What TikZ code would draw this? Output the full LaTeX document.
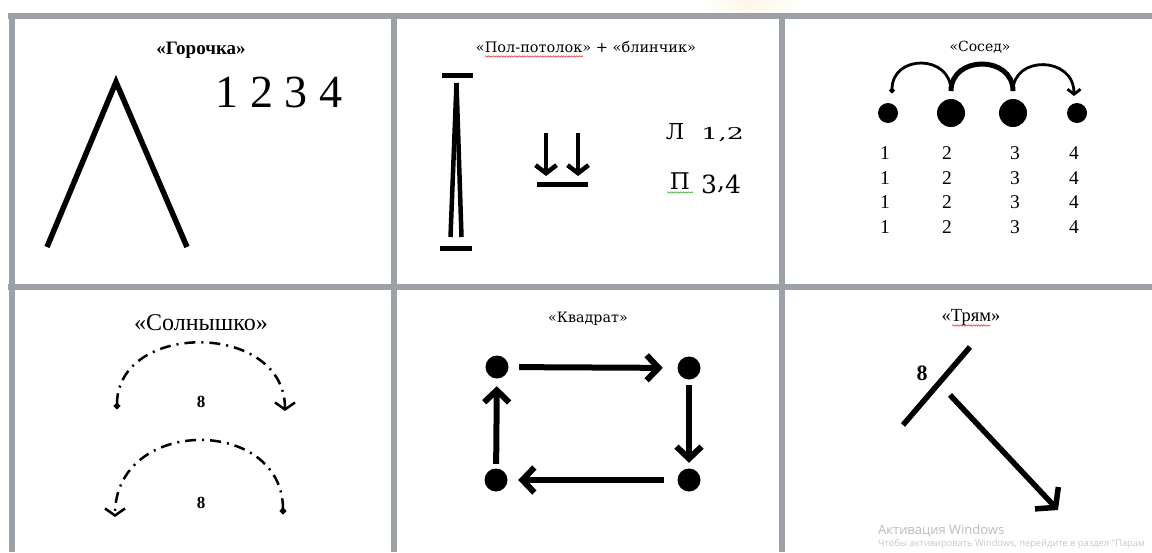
\documentclass[tikz,border=0pt]{standalone}
\usepackage{fontspec}
\setmainfont{Liberation Serif}
\newfontfamily\geo{DejaVu Serif}
\newfontfamily\wsans{Open Sans}
\usetikzlibrary{arrows.meta,decorations.pathmorphing}
\definecolor{gridc}{RGB}{156,161,167}
\definecolor{wmA}{RGB}{188,188,188}
\definecolor{wmB}{RGB}{200,200,200}
\definecolor{glow}{RGB}{255,246,232}
\definecolor{spellred}{RGB}{230,60,60}
\definecolor{spellgreen}{RGB}{60,170,60}
\begin{document}
\begin{tikzpicture}[x=1pt,y=-1pt,
  gridline/.style={gridc,line width=6pt},
  thickln/.style={line width=5.5pt},
  txt/.style={anchor=base,inner sep=0pt},
  dotnode/.style={circle,fill=black,inner sep=0pt},
  sunarc/.style={line width=2.5pt,dash pattern=on 11pt off 6pt on 2pt off 6pt},
  barbbig/.style={-{Straight Barb[length=12pt,width=25pt]}},
  squig/.style={decorate,decoration={snake,amplitude=0.7pt,segment length=2.6pt},line width=0.6pt}
]
\useasboundingbox (0,0) rectangle (1152,552);
\begin{scope}
\clip (0,0) rectangle (1152,552);
\fill[white] (0,0) rectangle (1152,552);
\shade[left color=white,right color=white,middle color=glow] (700,0) rectangle (800,12.5);
% grid
\draw[gridline] (8,15.5) -- (1152,15.5);
\draw[gridline] (8,287) -- (1152,287);
\draw[gridline] (11.5,12.5) -- (11.5,552);
\draw[gridline] (394,12.5) -- (394,552);
\draw[gridline] (782,12.5) -- (782,552);

% ---------- cell 1: Gorochka
\node[txt,font=\bfseries\fontsize{19}{19}\selectfont] (t1) at (201,54) {«Горочка»};
\node[txt,font=\fontsize{46}{46}\selectfont] (n1234) at (279,107) {1 2 3 4};
\coordinate (g1) at (47,247);
\coordinate (g2) at (116,82);
\coordinate (g3) at (187,247);
\draw[thickln,line join=miter] (g1) -- (g2) -- (g3);

% ---------- cell 2: Pol-potolok
\node[txt,font=\geo\fontsize{14.5}{14.5}\selectfont] (t2) at (586,52.7) {«Пол-потолок» + «блинчик»};
\draw[spellred,squig] (485,56.5) -- (583,56.5);
\coordinate (b1a) at (442,75); \coordinate (b1b) at (473,75);
\coordinate (b2a) at (440,248); \coordinate (b2b) at (472,248);
\draw[line width=5pt] (b1a) -- (b1b);
\draw[line width=5pt] (b2a) -- (b2b);
\coordinate (pt) at (456.5,83);
\coordinate (pl) at (450.5,237);
\coordinate (pr) at (461.5,237);
\draw[line width=4.5pt] (pt) -- (pl);
\draw[line width=4.5pt] (pt) -- (pr);
\coordinate (da1) at (546,133); \coordinate (da2) at (546,176);
\coordinate (db1) at (578,133); \coordinate (db2) at (578,176);
\draw[line width=4.5pt,-{Straight Barb[length=8pt,width=21pt]}] (da1) -- (da2);
\draw[line width=4.5pt,-{Straight Barb[length=8pt,width=21pt]}] (db1) -- (db2);
\coordinate (u1) at (537,184.5); \coordinate (u2) at (588,184.5);
\draw[line width=5pt] (u1) -- (u2);
\node[txt,font=\geo\fontsize{22}{22}\selectfont] (L) at (675,139) {Л};
\node[txt,anchor=base west,font=\geo\fontsize{24}{24}\selectfont] (L12) at (701,139) {\scalebox{1.12}[0.68]{1,2}};
\node[txt,font=\geo\fontsize{23}{23}\selectfont] (P) at (680,189) {П};
\node[txt,anchor=base west,font=\geo\fontsize{25}{25}\selectfont] (P34) at (701,189) {\raisebox{-4pt}{3},\raisebox{-4pt}{4}};
\draw[spellgreen,squig] (667,192.5) -- (693,192.5);

% ---------- cell 3: Sosed
\node[txt,font=\geo\fontsize{14}{14}\selectfont] (t3) at (980,51.7) {«Сосед»};
\node[dotnode,minimum size=20pt] (s1) at (888,113) {};
\node[dotnode,minimum size=28pt] (s2) at (951,113) {};
\node[dotnode,minimum size=28pt] (s3) at (1013,113) {};
\node[dotnode,minimum size=20pt] (s4) at (1077,113) {};
\coordinate (c0) at (892,93);
\coordinate (c1) at (951,91);
\coordinate (c2) at (1013,91);
\coordinate (c3) at (1074,96);
\draw[line width=2.8pt,{Circle[length=5pt]}-] (c0) .. controls (892,54) and (951,54) .. (c1);
\draw[line width=5pt] (c1) .. controls (951,55) and (1013,55) .. (c2);
\draw[line width=2.8pt,-{Straight Barb[length=5pt,width=13pt]}] (c2) .. controls (1013,55) and (1074,56) .. (c3);
\foreach \r/\yy in {1/159,2/184,3/208.5,4/233}{
  \foreach \c/\xx in {1/885,2/947,3/1015,4/1074}{
    \node[txt,font=\fontsize{19.5}{19.5}\selectfont] (n\r-\c) at (\xx,\yy) {\c};
  }
}

% ---------- cell 4: Solnyshko
\node[txt,font=\fontsize{24}{24}\selectfont] (t4) at (201,330) {«Солнышко»};
\coordinate (sa1) at (117,409);
\coordinate (sb1) at (285,411);
\draw[sunarc,{Circle[length=6pt]}-{Straight Barb[length=7pt,width=20pt]}] (sa1) .. controls (117,321) and (285,321) .. (sb1);
\node[txt,font=\bfseries\fontsize{17}{17}\selectfont] (e1) at (201,407) {8};
\coordinate (sa2) at (283,514);
\coordinate (sb2) at (115,517);
\draw[sunarc,{Circle[length=6pt]}-{Straight Barb[length=7pt,width=20pt]}] (sa2) .. controls (283,416) and (115,416) .. (sb2);
\node[txt,font=\bfseries\fontsize{17}{17}\selectfont] (e2) at (201,508) {8};

% ---------- cell 5: Kvadrat
\node[txt,font=\geo\fontsize{14.3}{14.3}\selectfont] (t5) at (588,322.7) {«Квадрат»};
\node[dotnode,minimum size=23pt] (q1) at (497,367) {};
\node[dotnode,minimum size=23pt] (q2) at (689,368) {};
\node[dotnode,minimum size=23pt] (q3) at (689,480) {};
\node[dotnode,minimum size=23pt] (q4) at (496,480) {};
\draw[line width=6pt,barbbig,shorten <=10.5pt,shorten >=14.5pt] (q1) -- (q2);
\draw[line width=6pt,barbbig,shorten <=5.5pt,shorten >=5.5pt] (q2) -- (q3);
\draw[line width=6pt,barbbig,shorten <=13.5pt,shorten >=10.5pt] (q3) -- (q4);
\draw[line width=6pt,barbbig,shorten <=4.5pt,shorten >=7.5pt] (q4) -- (q1);

% ---------- cell 6: Tryam
\node[txt,font=\fontsize{18.5}{18.5}\selectfont] (t6) at (971,321.7) {«Трям»};
\draw[spellred,squig] (952,325.5) -- (990,325.5);
\coordinate (tr1) at (903,425);
\coordinate (tr2) at (970,347);
\draw[thickln] (tr1) -- (tr2);
\node[txt,font=\bfseries\fontsize{22}{22}\selectfont] (e3) at (922,380) {8};
\coordinate (ta) at (950,395);
\coordinate (tb) at (1058,510);
\draw[thickln,-{Straight Barb[length=13pt,width=32pt]}] (ta) -- (tb);

% ---------- watermark
\node[txt,anchor=base west,font=\wsans\fontsize{13}{13}\selectfont,text=wmA] (w1) at (878,534.5) {Активация Windows};
\node[txt,anchor=base west,font=\wsans\fontsize{9.3}{9.3}\selectfont,text=wmB] (w2) at (878,546.5) {Чтобы активировать Windows, перейдите в раздел "Парам};
\end{scope}
\end{tikzpicture}
\end{document}
